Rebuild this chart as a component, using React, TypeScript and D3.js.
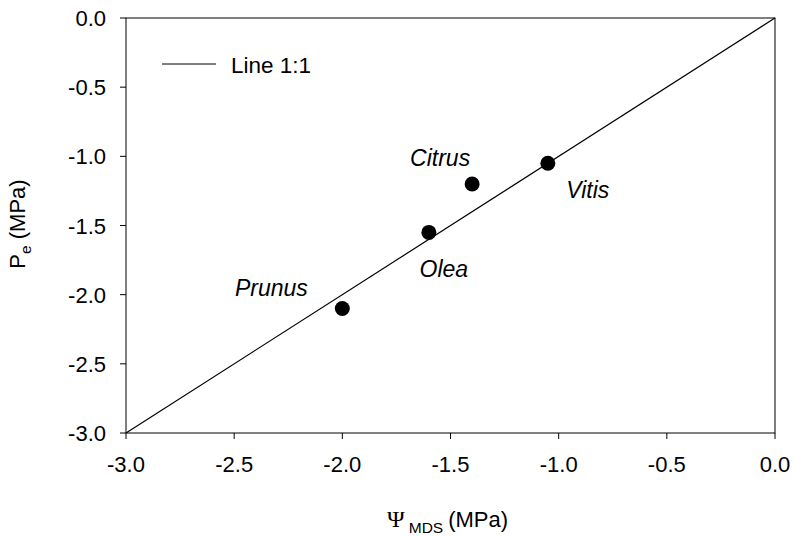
import React from "react";
import * as d3 from "d3";

const species = ["Prunus", "Olea", "Citrus", "Vitis"];
const psiMDS = [-2.0, -1.6, -1.4, -1.05];
const pe = [-2.1, -1.55, -1.2, -1.05];
const xTicks = [-3.0, -2.5, -2.0, -1.5, -1.0, -0.5, 0.0];
const yTicks = [0.0, -0.5, -1.0, -1.5, -2.0, -2.5, -3.0];
const labelOffsets = [
  { dx: -71, dy: -13 },
  { dx: 15, dy: 45 },
  { dx: -32, dy: -18 },
  { dx: 40, dy: 35 },
];

const W = 793, H = 536;
const L = 126, R = 775, T = 18, B = 433;
const FONT = "Liberation Sans, Arial, sans-serif";

export default function App() {
  const x = d3.scaleLinear().domain([-3, 0]).range([L, R]);
  const y = d3.scaleLinear().domain([-3, 0]).range([B, T]);
  const fmt = (v: number) => d3.format(".1f")(v).replace("\u2212", "-");
  const line = d3.line<number>().x((d) => x(d)).y((d) => y(d));
  return (
    <svg width={W} height={H} style={{ position: "absolute", left: 0, top: 0 }} fontFamily={FONT}>
      <rect x={0} y={0} width={W} height={H} fill="white" />
      <rect x={L} y={T} width={R - L} height={B - T} fill="none" stroke="black" strokeWidth={1} />
      <path d={line([-3, 0]) || ""} stroke="black" strokeWidth={1.2} fill="none" />
      {xTicks.map((t) => (
        <g key={"x" + t}>
          <line x1={x(t)} x2={x(t)} y1={B} y2={B + 6} stroke="black" />
          <text x={x(t)} y={472} textAnchor="middle" fontSize={22}>{fmt(t)}</text>
        </g>
      ))}
      {yTicks.map((t) => (
        <g key={"y" + t}>
          <line x1={L - 6} x2={L} y1={y(t)} y2={y(t)} stroke="black" />
          <text x={L - 20} y={y(t) + 8} textAnchor="end" fontSize={22}>{fmt(t)}</text>
        </g>
      ))}
      {species.map((s, i) => (
        <g key={s}>
          <circle cx={x(psiMDS[i])} cy={y(pe[i])} r={7.5} fill="black" />
          <text
            x={x(psiMDS[i]) + labelOffsets[i].dx}
            y={y(pe[i]) + labelOffsets[i].dy}
            textAnchor="middle"
            fontSize={23}
            fontStyle="italic"
          >{s}</text>
        </g>
      ))}
      <line x1={162} x2={216} y1={64} y2={64} stroke="black" strokeWidth={1} />
      <text x={231} y={73} fontSize={22.5}>Line 1:1</text>
      <text x={387} y={527} fontSize={22}>
        <tspan fontFamily="Liberation Serif, Times New Roman, serif" fontSize={24}>Ψ</tspan>
        <tspan fontSize={15.5} dx={4} dy={6}>MDS</tspan><tspan dx={5} dy={-6}>(MPa)</tspan>
      </text>
      <text transform={`translate(25, 224) rotate(-90)`} textAnchor="middle" fontSize={22}>
        P<tspan fontSize={15.5} dy={6}>e</tspan><tspan dy={-6}> (MPa)</tspan>
      </text>
    </svg>
  );
}
